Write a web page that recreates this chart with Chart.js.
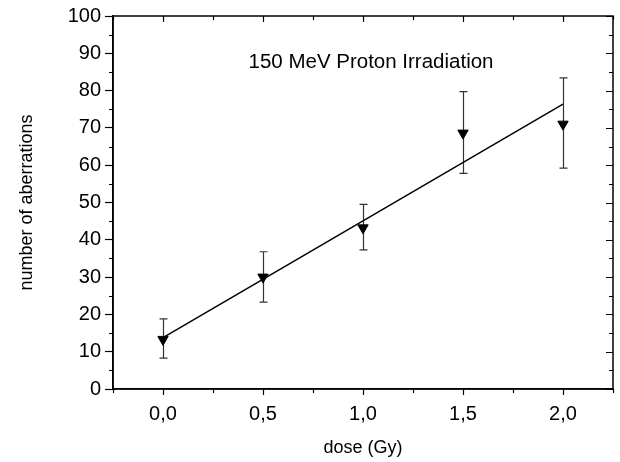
<!DOCTYPE html>
<html lang="en">
<head>
  <meta charset="UTF-8">
  <title>150 MeV Proton Irradiation</title>
  <script src="https://cdn.jsdelivr.net/npm/chart.js"></script>
  <style>
    body { margin: 0; background: #fff; }
    #wrap { width: 620px; height: 462px; }
  </style>
</head>
<body>
  <div id="wrap"><canvas id="chart" width="620" height="462"></canvas></div>
  <script>
    const doses = [0.0, 0.5, 1.0, 1.5, 2.0];
    const aberrations = [13.3, 30.0, 43.2, 68.6, 71.0];
    const errUpper = [18.8, 36.8, 49.5, 79.7, 83.4];
    const errLower = [8.3, 23.3, 37.3, 57.8, 59.2];
    // linear fit end points
    const fitX = [0.0, 2.0];
    const fitY = [13.8, 76.4];
    const titleText = '150 MeV Proton Irradiation';

    const FONT = 'Arial, "Liberation Sans", sans-serif';
    const comma = v => v.toFixed(1).replace('.', ',');
    const isMajorX = v => Math.abs(v * 2 - Math.round(v * 2)) < 1e-6;
    const isMajorY = v => v % 10 === 0;

    // error bars drawn under the markers
    const errorBars = {
      id: 'errorBars',
      beforeDatasetsDraw(chart) {
        const { ctx, scales: { x, y } } = chart;
        ctx.save();
        ctx.strokeStyle = '#333';
        ctx.lineWidth = 1.2;
        doses.forEach((d, i) => {
          const px = Math.round(x.getPixelForValue(d)) + 0.5;
          const top = y.getPixelForValue(errUpper[i]);
          const bot = y.getPixelForValue(errLower[i]);
          ctx.beginPath();
          ctx.moveTo(px, top); ctx.lineTo(px, bot);
          ctx.moveTo(px - 4, top); ctx.lineTo(px + 4, top);
          ctx.moveTo(px - 4, bot); ctx.lineTo(px + 4, bot);
          ctx.stroke();
        });
        ctx.restore();
      }
    };

    // frame, minor ticks outside, inward ticks top/right, plus the text label
    const frame = {
      id: 'frame',
      afterDraw(chart) {
        const { ctx, chartArea: a, scales: { x, y } } = chart;
        ctx.save();
        ctx.strokeStyle = '#000';
        ctx.lineWidth = 1.5;
        ctx.strokeRect(a.left, a.top, a.right - a.left, a.bottom - a.top);
        ctx.lineWidth = 1.2;
        ctx.beginPath();
        x.ticks.forEach(t => {
          const px = Math.round(x.getPixelForValue(t.value)) + 0.5;
          const major = isMajorX(t.value);
          ctx.moveTo(px, a.top); ctx.lineTo(px, a.top + (major ? 6 : 4));
          if (!major) { ctx.moveTo(px, a.bottom); ctx.lineTo(px, a.bottom + 4); }
        });
        y.ticks.forEach(t => {
          const py = Math.round(y.getPixelForValue(t.value)) + 0.5;
          const major = isMajorY(t.value);
          ctx.moveTo(a.right, py); ctx.lineTo(a.right - (major ? 7 : 4), py);
          if (!major) { ctx.moveTo(a.left, py); ctx.lineTo(a.left - 4, py); }
        });
        ctx.stroke();

        ctx.fillStyle = '#000';
        ctx.font = '20.5px ' + FONT;
        ctx.textAlign = 'center';
        ctx.textBaseline = 'middle';
        ctx.fillText(titleText, x.getPixelForValue(1.04), y.getPixelForValue(87.5));
        ctx.restore();
      }
    };

    new Chart(document.getElementById('chart'), {
      type: 'scatter',
      data: {
        datasets: [
          {
            type: 'line',
            label: 'fit',
            data: fitX.map((v, i) => ({ x: v, y: fitY[i] })),
            borderColor: '#000',
            borderWidth: 1.5,
            pointRadius: 0,
            fill: false,
            order: 2
          },
          {
            label: 'aberrations',
            data: doses.map((v, i) => ({ x: v, y: aberrations[i] })),
            pointStyle: 'triangle',
            rotation: 180,
            pointRadius: 6,
            pointBackgroundColor: '#000',
            pointBorderColor: '#000',
            pointBorderWidth: 1,
            order: 1
          }
        ]
      },
      options: {
        responsive: false,
        animation: false,
        layout: { padding: { left: 0, right: 7, top: 16, bottom: 0 } },
        plugins: {
          legend: { display: false },
          tooltip: { enabled: false }
        },
        scales: {
          x: {
            type: 'linear',
            min: -0.25,
            max: 2.25,
            afterFit: s => { s.height = 73; },
            border: { display: true, color: '#000', width: 1.5 },
            grid: {
              drawOnChartArea: false, tickLength: 6, tickWidth: 1.2,
              tickColor: c => (isMajorX(c.tick.value) ? '#000' : 'rgba(0,0,0,0)')
            },
            ticks: {
              stepSize: 0.25,
              color: '#000',
              padding: 7,
              maxRotation: 0,
              autoSkip: false,
              font: { family: FONT, size: 20 },
              callback: v => (isMajorX(v) ? comma(v) : '')
            },
            title: {
              display: true,
              text: 'dose (Gy)',
              color: '#000',
              font: { family: FONT, size: 18 },
              padding: { top: 0, bottom: 3 }
            }
          },
          y: {
            min: 0,
            max: 100,
            afterFit: s => { s.width = 113; },
            border: { display: true, color: '#000', width: 1.5 },
            grid: {
              drawOnChartArea: false, tickLength: 8, tickWidth: 1.2,
              tickColor: c => (isMajorY(c.tick.value) ? '#000' : 'rgba(0,0,0,0)')
            },
            ticks: {
              stepSize: 5,
              color: '#000',
              padding: 4,
              autoSkip: false,
              font: { family: FONT, size: 20 },
              callback: v => (isMajorY(v) ? String(v) : '')
            },
            title: {
              display: true,
              text: 'number of aberrations',
              color: '#000',
              font: { family: FONT, size: 18 },
              padding: { top: 16, bottom: 0 }
            }
          }
        }
      },
      plugins: [errorBars, frame]
    });
  </script>
</body>
</html>
